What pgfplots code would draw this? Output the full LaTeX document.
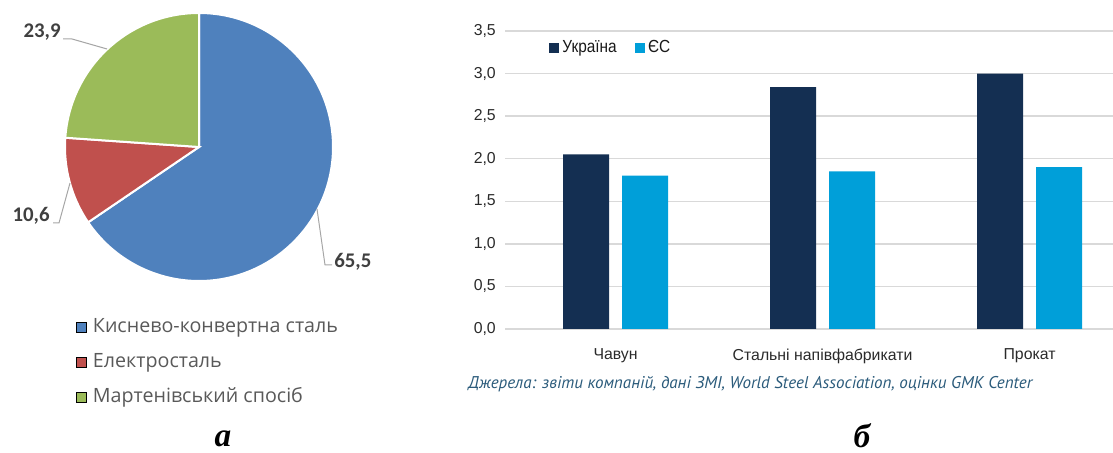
\documentclass[border=0pt]{standalone}
\usepackage{fontspec}
\usepackage{pgfplots}
\pgfplotsset{compat=1.18}
\setmainfont{Carlito}
\newfontfamily\legfont{Open Sans}
\newfontfamily\barfont{Liberation Sans}
\newfontfamily\barnarrow[FakeStretch=0.88]{Liberation Sans}
\newfontfamily\capfont{PT Sans}
\newfontfamily\letterfont{Liberation Serif}
\definecolor{pieblue}{HTML}{4F81BD}
\definecolor{piered}{HTML}{C0504D}
\definecolor{piegreen}{HTML}{9BBB59}
\definecolor{pielabel}{HTML}{404040}
\definecolor{pielegend}{HTML}{595959}
\definecolor{uanavy}{HTML}{142F52}
\definecolor{eublue}{HTML}{009FD9}
\definecolor{gridgray}{HTML}{D9D9D9}
\definecolor{tickgray}{HTML}{2A2A2A}
\definecolor{capcolor}{HTML}{2B5B7B}
\begin{document}
\begin{tikzpicture}
\path[use as bounding box] (0pt,0pt) rectangle (667.8pt,271.8pt);
% ---------- pie ----------
\pgfmathsetmacro{\aBlue}{-65.5*3.6}
\pgfmathsetmacro{\aRed}{-10.6*3.6}
\pgfmathsetmacro{\aGreen}{-23.9*3.6}
\pgfmathsetmacro{\sRed}{90+\aBlue}
\pgfmathsetmacro{\sGreen}{90+\aBlue+\aRed}
\begin{axis}[at={(119.4pt,183.6pt)}, anchor=center, scale only axis,
  width=160.8pt, height=160.8pt, xmin=-1, xmax=1, ymin=-1, ymax=1,
  hide axis, clip=false,
  legend image code/.code={\fill[#1] (0pt,-3pt) rectangle (6pt,3pt);},
  legend style={at={(rel axis cs:0.041,-0.138)}, anchor=north west, draw=none, fill=none,
    inner sep=0pt, row sep=9.8pt, column sep=3.6pt,
    nodes={inner sep=0pt, text height=8.6pt, text depth=2.6pt, text=pielegend},
    font=\legfont\fontsize{11.8}{13}\selectfont},
  legend cell align=left]
\fill[pieblue, draw=white, line width=1.2pt] (axis cs:0,0) -- (axis cs:0,1) arc[start angle=90, delta angle=\aBlue, radius=80.4pt] -- cycle;
\fill[piered, draw=white, line width=1.2pt] (axis cs:0,0) -- ++(\sRed:80.4pt) arc[start angle=\sRed, delta angle=\aRed, radius=80.4pt] -- cycle;
\fill[piegreen, draw=white, line width=1.2pt] (axis cs:0,0) -- ++(\sGreen:80.4pt) arc[start angle=\sGreen, delta angle=\aGreen, radius=80.4pt] -- cycle;
\addlegendimage{fill=pieblue}
\addlegendentry{Киснево-конвертна сталь}
\addlegendimage{fill=piered}
\addlegendentry{Електросталь}
\addlegendimage{fill=piegreen}
\addlegendentry{Мартенівський спосіб}
\end{axis}
\begin{scope}[x=0.6pt,y=0.6pt]
% leader lines and labels
\draw[gray!70, line width=0.6pt] (63,414) -- (72,414) -- (107,404);
\draw[gray!70, line width=0.6pt] (53,230) -- (59,230) -- (70,270);
\draw[gray!70, line width=0.6pt] (332,188) -- (325,188) -- (317,244);
\node[anchor=east, inner sep=0pt, text=pielabel, font=\fontsize{12.5}{14}\selectfont\bfseries] at (61,421) {23,9};
\node[anchor=east, inner sep=0pt, text=pielabel, font=\fontsize{12.5}{14}\selectfont\bfseries] at (50,237) {10,6};
\node[anchor=west, inner sep=0pt, text=pielabel, font=\fontsize{12.5}{14}\selectfont\bfseries] at (334,191) {65,5};
\end{scope}
% ---------- bars ----------
\begin{axis}[at={(303pt,74.4pt)}, anchor=south west, scale only axis,
  width=364.8pt, height=178.8pt,
  xmin=-0.534, xmax=2.403, ymin=0, ymax=3.5,
  ytick={0,0.5,1,1.5,2,2.5,3,3.5},
  xtick={0,1,2},
  xticklabels={Чавун, Стальні напівфабрикати, Прокат},
  ymajorgrids, grid style={draw=gridgray, line width=0.9pt},
  axis line style={draw=none}, major tick length=0pt,
  /pgf/number format/assume math mode=true,
  yticklabel={\pgfmathprintnumber[fixed, fixed zerofill, precision=1, use comma]{\tick}},
  ticklabel style={font=\barfont\fontsize{9.5}{11}\selectfont, text=tickgray},
  yticklabel style={xshift=-2pt},
  xticklabel style={yshift=-8.5pt},
  legend image code/.code={\fill[#1] (0pt,-3pt) rectangle (6pt,3pt);},
  legend columns=2,
  legend style={at={(rel axis cs:0.072,0.943)}, anchor=west, draw=none, fill=none,
    inner sep=0pt, nodes={inner sep=0pt, text=black!90},
    font=\barnarrow\fontsize{10.5}{12}\selectfont,
    /tikz/every odd column/.append style={column sep=2pt},
    /tikz/every even column/.append style={column sep=10.8pt}},
  clip=false]
\addplot[ybar, bar width=27.6pt, bar shift=-17.7pt, fill=uanavy, draw=none] coordinates {(0,2.05) (1,2.84) (2,3.00)};
\addlegendentry{Україна}
\addplot[ybar, bar width=27.6pt, bar shift=17.7pt, fill=eublue, draw=none] coordinates {(0,1.80) (1,1.85) (2,1.90)};
\addlegendentry{ЄС}
\end{axis}
\begin{scope}[x=0.6pt,y=0.6pt]
\node[anchor=west, inner sep=0pt, text=capcolor, font=\capfont\itshape\fontsize{10.2}{12}\selectfont] at (468,69) {Джерела: звіти компаній, дані ЗМІ, World Steel Association, оцінки GMK Center};
% sub-figure letters
\node[inner sep=0pt, font=\letterfont\bfseries\itshape\fontsize{20}{22}\selectfont] at (223,14) {а};
\node[inner sep=0pt, font=\letterfont\bfseries\itshape\fontsize{20}{22}\selectfont] at (862,17) {б};
\end{scope}
\end{tikzpicture}
\end{document}
